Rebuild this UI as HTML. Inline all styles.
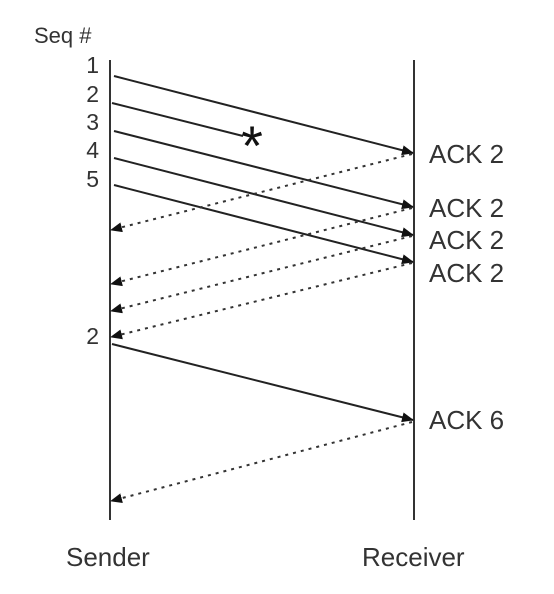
<!DOCTYPE html>
<html><head><meta charset="utf-8"><style>
html,body{margin:0;padding:0;background:#fff;}
svg{display:block;}
text{font-family:"Liberation Sans",Arial,sans-serif;fill:#333;}
</style></head><body>
<svg width="554" height="594" viewBox="0 0 554 594" xmlns="http://www.w3.org/2000/svg">
<defs>
<marker id="a" markerWidth="12" markerHeight="10" refX="11" refY="5" orient="auto" markerUnits="userSpaceOnUse">
<path d="M0,0 L12,5 L0,10 Z" fill="#111"/></marker>
</defs>
<text x="34" y="43" font-size="22">Seq #</text>
<g font-size="23" text-anchor="end">
<text x="99" y="73">1</text>
<text x="99" y="102">2</text>
<text x="99" y="130">3</text>
<text x="99" y="158">4</text>
<text x="99" y="187">5</text>
<text x="99" y="344">2</text>
</g>
<line x1="110" y1="60" x2="110" y2="520" stroke="#333" stroke-width="2"/>
<line x1="414" y1="60" x2="414" y2="520" stroke="#333" stroke-width="2"/>
<g stroke="#222" stroke-width="2" fill="none">
<line x1="114" y1="76" x2="413" y2="153" marker-end="url(#a)"/>
<line x1="112" y1="103" x2="243" y2="136"/>
<line x1="114" y1="131" x2="413" y2="207" marker-end="url(#a)"/>
<line x1="114" y1="158" x2="413" y2="235" marker-end="url(#a)"/>
<line x1="114" y1="185" x2="413" y2="262" marker-end="url(#a)"/>
<line x1="112" y1="344" x2="413" y2="420" marker-end="url(#a)"/>
</g>
<g stroke="#333" stroke-width="2" stroke-dasharray="3,5" fill="none">
<line x1="412" y1="154" x2="111" y2="230" marker-end="url(#a)"/>
<line x1="412" y1="208" x2="111" y2="284" marker-end="url(#a)"/>
<line x1="412" y1="236" x2="111" y2="311" marker-end="url(#a)"/>
<line x1="412" y1="263" x2="111" y2="337" marker-end="url(#a)"/>
<line x1="412" y1="422" x2="111" y2="501" marker-end="url(#a)"/>
</g>
<text x="252" y="165" font-size="56" text-anchor="middle" style="fill:#111">*</text>
<g font-size="26">
<text x="429" y="163">ACK 2</text>
<text x="429" y="217">ACK 2</text>
<text x="429" y="249">ACK 2</text>
<text x="429" y="282">ACK 2</text>
<text x="429" y="429">ACK 6</text>
<text x="66" y="566">Sender</text>
<text x="362" y="566">Receiver</text>
</g>
</svg>
</body></html>
